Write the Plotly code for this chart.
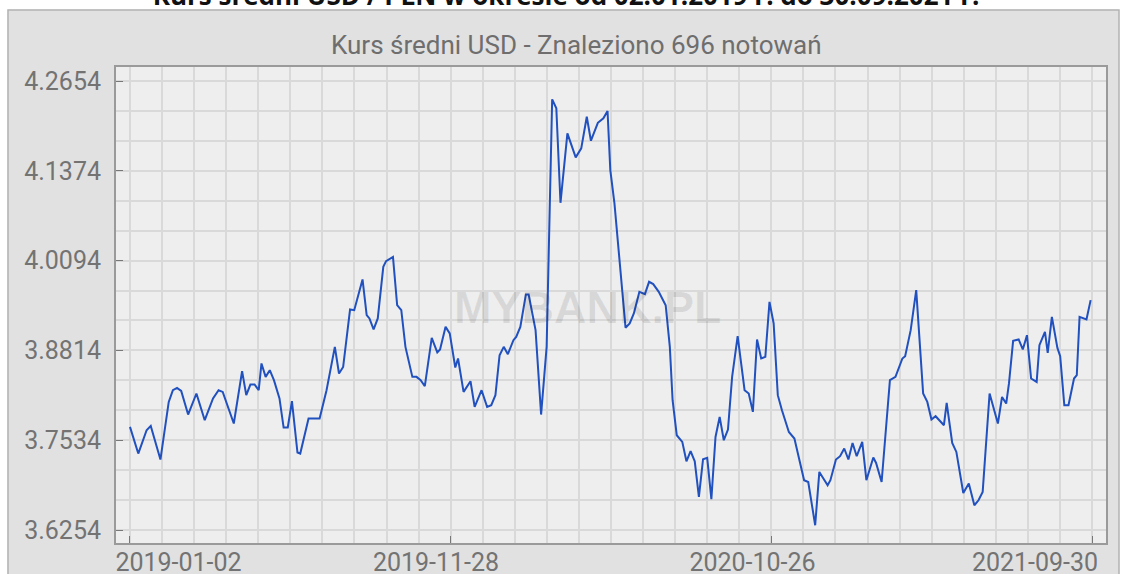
import plotly.graph_objects as go

# ---- data ----
quote_index = [0, 6, 12, 15, 22, 28, 31, 34, 37, 42, 48, 54, 60, 64, 67, 71, 75, 81, 84, 87,
               90, 93, 95, 98, 101, 104, 108, 111, 114, 117, 121, 123, 129, 137, 142, 148, 151, 154, 159, 162,
               168, 171, 173, 176, 179, 183, 185, 190, 193, 196, 199, 204, 207, 210, 213, 218, 222, 224, 228, 231,
               235, 237, 241, 246, 249, 254, 258, 261, 264, 267, 270, 273, 277, 279, 282, 286, 288, 293, 297, 301,
               305, 308, 311, 316, 322, 326, 330, 333, 338, 342, 345, 347, 350, 358, 361, 364, 368, 372, 375, 378,
               382, 387, 390, 392, 395, 399, 402, 405, 408, 411, 414, 417, 420, 423, 426, 429, 432, 435, 439, 444,
               447, 450, 453, 456, 459, 462, 465, 468, 471, 476, 480, 487, 490, 495, 498, 504, 506, 510, 513, 516,
               519, 522, 525, 529, 532, 537, 539, 543, 549, 553, 558, 560, 564, 568, 573, 576, 579, 582, 588, 590,
               594, 597, 602, 606, 610, 613, 616, 621, 627, 630, 633, 635, 638, 642, 645, 648, 651, 655, 657, 661,
               663, 666, 670, 672, 675, 678, 682, 684, 686, 691, 694]
usd_rate = [3.7724, 3.7344, 3.7677, 3.7738, 3.7259, 3.8080, 3.8247, 3.8280, 3.8237, 3.7900,
            3.8200, 3.7819, 3.8129, 3.8247, 3.8223, 3.7986, 3.7772, 3.8518, 3.8176, 3.8328,
            3.8328, 3.8247, 3.8628, 3.8437, 3.8532, 3.8390, 3.8129, 3.7715, 3.7715, 3.8090,
            3.7359, 3.7344, 3.7843, 3.7843, 3.8247, 3.8865, 3.8485, 3.8579, 3.9398, 3.9388,
            3.9826, 3.9317, 3.9270, 3.9113, 3.9270, 4.0006, 4.0087, 4.0148, 3.9459, 3.9388,
            3.8865, 3.8437, 3.8437, 3.8390, 3.8304, 3.8993, 3.8785, 3.8828, 3.9150, 3.9056,
            3.8571, 3.8699, 3.8223, 3.8375, 3.8009, 3.8247, 3.8009, 3.8033, 3.8176, 3.8746,
            3.8865, 3.8760, 3.8960, 3.9007, 3.9150, 3.9612, 3.9612, 3.9103, 3.7900, 3.8865,
            4.2393, 4.2265, 4.0918, 4.1908, 4.1566, 4.1694, 4.2145, 4.1803, 4.2059, 4.2122,
            4.2226, 4.1385, 4.0910, 3.9138, 3.9198, 3.9341, 3.9649, 3.9616, 3.9792, 3.9759,
            3.9649, 3.9459, 3.8865, 3.8104, 3.7605, 3.7510, 3.7234, 3.7377, 3.7234, 3.6725,
            3.7263, 3.7282, 3.6693, 3.7581, 3.7866, 3.7534, 3.7687, 3.8437, 3.9017, 3.8247,
            3.8200, 3.7938, 3.8970, 3.8699, 3.8722, 3.9506, 3.9198, 3.8176, 3.7962, 3.7652,
            3.7558, 3.6964, 3.6939, 3.6322, 3.7082, 3.6892, 3.6964, 3.7259, 3.7306, 3.7416,
            3.7259, 3.7495, 3.7306, 3.7510, 3.6964, 3.7287, 3.7210, 3.6939, 3.8390, 3.8437,
            3.8699, 3.8732, 3.9103, 3.9673, 3.8200, 3.8080, 3.7829, 3.7876, 3.7748, 3.8066,
            3.7495, 3.7367, 3.6782, 3.6916, 3.6607, 3.6678, 3.6797, 3.8200, 3.7772, 3.8151,
            3.8057, 3.8343, 3.8950, 3.8970, 3.8828, 3.9031, 3.8414, 3.8365, 3.8889, 3.9079,
            3.8779, 3.9292, 3.8850, 3.8732, 3.8033, 3.8033, 3.8414, 3.8461, 3.9292, 3.9255,
            3.9531]

x_tick_positions = [0, 231.667, 463.333, 695]
x_tick_labels = ["2019-01-02", "2019-11-28", "2020-10-26", "2021-09-30"]
y_tick_values = [3.6254, 3.7534, 3.8814, 4.0094, 4.1374, 4.2654]
y_tick_labels = ["3.6254", "3.7534", "3.8814", "4.0094", "4.1374", "4.2654"]

main_title = "Kurs średni USD / PLN w okresie od 02.01.2019 r. do 30.09.2021 r."
sub_title = "Kurs średni USD - Znaleziono 696 notowań"
watermark = "MYBANK.PL"

# ---- layout geometry ----
W, H = 1131, 574
ML, MR, MT, MB = 116, 25, 67, 31
PW, PH = W - ML - MR, H - MT - MB
X_RANGE = [-10.1, 705.1]
Y_RANGE = [3.6069, 4.2854]
# the chart library nudges date labels so they stay inside the frame (pixel centres)
LABEL_CENTRES_PX = [178.5, 436, 752.5, 1035]


def px(x):
    return (x - ML) / PW


def py(y):
    return (H - MB - y) / PH


def px_to_x(p):
    return X_RANGE[0] + (p - ML) / PW * (X_RANGE[1] - X_RANGE[0])


label_positions = [px_to_x(p) for p in LABEL_CENTRES_PX]

fig = go.Figure()
fig.add_trace(go.Scatter(
    x=quote_index, y=usd_rate, mode="lines",
    line=dict(color="#2150bf", width=2),
    hoverinfo="x+y", showlegend=False,
))
# carrier trace so the label axis is drawn
fig.add_trace(go.Scatter(
    x=quote_index, y=usd_rate, mode="lines", xaxis="x2",
    line=dict(color="rgba(0,0,0,0)", width=0), hoverinfo="skip", showlegend=False,
))

GRID = "#d9d9d9"
AXIS = "#9a9a9a"
TICKFONT = dict(family="Roboto, 'Open Sans', sans-serif", size=25, color="#737373")

fig.update_layout(
    template="none",
    width=W, height=H,
    margin=dict(l=ML, r=MR, t=MT, b=MB, pad=0),
    paper_bgcolor="#e1e1e1", plot_bgcolor="#eeeeee",
    showlegend=False,
    title=dict(
        text="<b>" + main_title + "</b>", x=566 / W, xref="container",
        y=1.0, yref="container", xanchor="center", yanchor="middle",
        font=dict(family="'Open Sans', sans-serif", size=26, color="#111111"),
    ),
    xaxis=dict(
        range=X_RANGE, automargin=False,
        tickmode="array", tickvals=x_tick_positions, ticktext=[""] * len(x_tick_positions),
        ticks="inside", ticklen=7, tickwidth=1, tickcolor="#777777",
        showgrid=True, gridcolor=GRID, gridwidth=2,
        minor=dict(tick0=0, dtick=695 / 30, showgrid=True, gridcolor=GRID, gridwidth=2, ticks=""),
        showline=True, linecolor=AXIS, linewidth=2, mirror=True, zeroline=False,
    ),
    xaxis2=dict(
        overlaying="x", side="bottom", anchor="y", range=X_RANGE, automargin=False,
        tickmode="array", tickvals=label_positions, ticktext=x_tick_labels,
        ticks="", showgrid=False, showline=False, zeroline=False,
        tickfont=TICKFONT, ticklabelstandoff=2, ticklabeloverflow="allow",
    ),
    yaxis=dict(
        range=Y_RANGE, automargin=False,
        tickmode="array", tickvals=y_tick_values, ticktext=y_tick_labels,
        ticks="inside", ticklen=7, tickwidth=1, tickcolor="#777777",
        showgrid=True, gridcolor=GRID, gridwidth=2,
        minor=dict(tick0=3.6254, dtick=0.128 / 3, showgrid=True, gridcolor=GRID, gridwidth=2, ticks=""),
        showline=True, linecolor=AXIS, linewidth=2, mirror=True, zeroline=False,
        tickfont=TICKFONT, ticklabelstandoff=8,
    ),
)

shapes = [
    dict(type="rect", xref="paper", yref="paper", x0=px(-5), x1=px(7.5), y0=py(H + 20), y1=py(-20),
         fillcolor="white", line=dict(width=0), layer="below"),
    dict(type="rect", xref="paper", yref="paper", x0=px(-5), x1=px(W + 5), y0=py(9.5), y1=py(-20),
         fillcolor="white", line=dict(width=0), layer="below"),
    dict(type="rect", xref="paper", yref="paper", x0=px(1119), x1=px(W + 5), y0=py(H + 20), y1=py(-20),
         fillcolor="white", line=dict(width=0), layer="below"),
    dict(type="rect", xref="paper", yref="paper", x0=px(8), x1=px(1119), y0=py(H + 20), y1=py(10),
         fillcolor="rgba(0,0,0,0)", line=dict(color="#b3b3b3", width=1.5), layer="below"),
]

annotations = [
    dict(text=sub_title, xref="paper", yref="paper", x=px(576), y=py(45),
         xanchor="center", yanchor="middle", showarrow=False,
         font=dict(family="Roboto, sans-serif", size=26, color="#6e6e6e")),
    dict(text=watermark, xref="paper", yref="paper", x=px(588), y=py(307),
         xanchor="center", yanchor="middle", showarrow=False,
         font=dict(family="Liberation Sans, Arial, sans-serif", size=45, color="rgba(0,0,0,0.09)",
                   weight="bold")),
]
fig.update_layout(shapes=shapes, annotations=annotations)

# page has no body margin; the page title sits partly above the top edge as in the source
POST = (
    "document.body.style.margin='0px';"
    "var t=document.querySelector('.gtitle');"
    "if(t){t.setAttribute('y', parseFloat(t.getAttribute('y'))-4);}"
)
fig.write_html("out.html", post_script=POST, config={"displayModeBar": False})
